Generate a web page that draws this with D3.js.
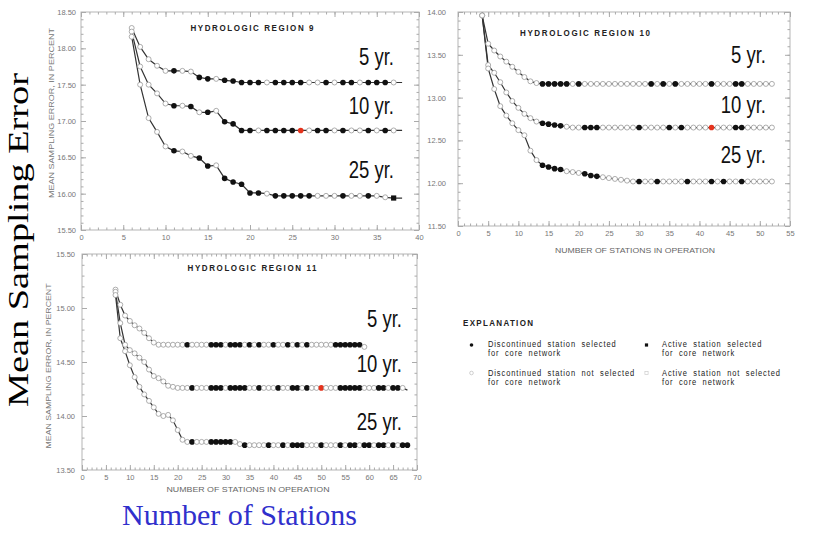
<!DOCTYPE html>
<html>
<head>
<meta charset="utf-8">
<script src="https://cdn.jsdelivr.net/npm/d3@7"></script>
<style>
  body { margin: 0; background: #fff; }
  svg { display: block; font-family: "Liberation Sans", Arial, sans-serif; }
</style>
</head>
<body>
<svg width="819" height="535"></svg>
<script>
// marker codes: o = not selected, f = discontinued selected, s = active selected,
// r = red (chosen network size), - = no marker

// Hydrologic region 9, stations 6..38
const r9Start = 6;
const r9Five = [18.28, 18.02, 17.85, 17.76, 17.69, 17.69, 17.69, 17.68, 17.60, 17.58, 17.58, 17.56, 17.55,
  17.53, 17.53, 17.53, 17.53, 17.53, 17.53, 17.53, 17.53, 17.53, 17.53,
  17.53, 17.53, 17.53, 17.53, 17.53, 17.53, 17.53, 17.53, 17.53, 17.53];
const r9FiveMarks = 'ooooofooffofffffoffffoofoffofffo-';
const r9Ten = [18.23, 17.75, 17.50, 17.38, 17.24, 17.21, 17.21, 17.20, 17.12, 17.12, 17.14, 16.99, 16.96,
  16.87, 16.87, 16.87, 16.87, 16.87, 16.87, 16.87, 16.87, 16.87, 16.87,
  16.87, 16.87, 16.87, 16.87, 16.87, 16.87, 16.87, 16.87, 16.87, 16.87];
const r9TenMarks = 'ooooofofofoffffoffffroffofoofofo-';
const r9TwentyFive = [18.16, 17.50, 17.04, 16.85, 16.65, 16.59, 16.58, 16.52, 16.49, 16.38, 16.39, 16.21,
  16.16, 16.13, 16.01, 16.01, 16.00, 15.97, 15.97, 15.97, 15.97, 15.97, 15.97, 15.97, 15.97,
  15.97, 15.97, 15.97, 15.97, 15.97, 15.95, 15.94, 15.94];
const r9TwentyFiveMarks = 'ooooofooffofffffofffffooofoofoos-';

// Hydrologic region 10, stations 4..52
const r10Start = 4;
const r10Five = [13.96, 13.63, 13.55, 13.48, 13.42, 13.36, 13.30, 13.24, 13.19, 13.17,
  13.16, 13.16, 13.16, 13.16, 13.16, 13.16, 13.16, 13.16, 13.16, 13.16,
  13.16, 13.16, 13.16, 13.16, 13.16, 13.16, 13.16, 13.16, 13.16, 13.16,
  13.16, 13.16, 13.16, 13.16, 13.16, 13.16, 13.16, 13.16, 13.16, 13.16,
  13.16, 13.16, 13.16, 13.16, 13.16, 13.16, 13.16, 13.16, 13.16];
const r10FiveMarks = 'oooooooooofffffofooooooooooofofofooooofoooffooooo';
const r10Ten = [13.96, 13.38, 13.29, 13.18, 13.06, 12.96, 12.88, 12.81, 12.76, 12.72,
  12.70, 12.69, 12.68, 12.67, 12.66, 12.65, 12.65, 12.65, 12.65, 12.65,
  12.65, 12.65, 12.65, 12.65, 12.65, 12.65, 12.65, 12.65, 12.65, 12.65,
  12.65, 12.65, 12.65, 12.65, 12.65, 12.65, 12.65, 12.65, 12.65, 12.65,
  12.65, 12.65, 12.65, 12.65, 12.65, 12.65, 12.65, 12.65, 12.65];
const r10TenMarks = 'ooooooooooffffooofffoooooofoooofofooooroooffooooo';
const r10TwentyFive = [13.96, 13.34, 13.10, 12.90, 12.79, 12.70, 12.62, 12.56, 12.38, 12.27,
  12.21, 12.19, 12.17, 12.16, 12.14, 12.13, 12.12, 12.11, 12.09, 12.08,
  12.07, 12.06, 12.05, 12.04, 12.03, 12.02, 12.02, 12.02, 12.02, 12.02,
  12.02, 12.02, 12.02, 12.02, 12.02, 12.02, 12.02, 12.02, 12.02, 12.02,
  12.02, 12.02, 12.02, 12.02, 12.02, 12.02, 12.02, 12.02, 12.02];
const r10TwentyFiveMarks = 'oooooooooo' + 'ffff' + 'ooo' + 'fff' + 'oooooo' + 'f' + 'oo' + 'f' + 'oooo' +
  'f' + 'ooo' + 'f' + 'o' + 'f' + 'oo' + 'f' + 'ooooo';

// Hydrologic region 11, stations 7..68
const r11Start = 7;
const r11Five = [15.17, 15.03, 14.93, 14.88, 14.84, 14.81, 14.77, 14.72, 14.68,
  14.66, 14.66, 14.66, 14.66, 14.66, 14.66, 14.66, 14.66, 14.66, 14.66,
  14.66, 14.66, 14.66, 14.66, 14.66, 14.66, 14.66, 14.66, 14.66, 14.66,
  14.66, 14.66, 14.66, 14.66, 14.66, 14.66, 14.66, 14.66, 14.66, 14.66,
  14.66, 14.66, 14.66, 14.66, 14.66, 14.66, 14.66, 14.66, 14.66, 14.66,
  14.66, 14.66, 14.66, 14.64];
const r11FiveMarks = 'ooooooooooooooo' + 'f' + 'oooo' + 'fff' + 'o' + 'fff' + 'o' + 'f' + 'o' + 'f' + 'oo' + 'f' +
  'oo' + 'f' + 'o' + 'f' + 'o' + 'f' + 'ooooo' + 'ffffff' + 'ooo' + 'ff' + 'o' + 'ff' + 'o' + '-';
const r11Ten = [15.15, 14.86, 14.66, 14.61, 14.58, 14.54, 14.50, 14.43, 14.37, 14.35, 14.32, 14.28, 14.27,
  14.26, 14.26, 14.26, 14.26, 14.26, 14.26, 14.26, 14.26, 14.26, 14.26,
  14.26, 14.26, 14.26, 14.26, 14.26, 14.26, 14.26, 14.26, 14.26, 14.26,
  14.26, 14.26, 14.26, 14.26, 14.26, 14.26, 14.26, 14.26, 14.26, 14.26,
  14.26, 14.26, 14.26, 14.26, 14.26, 14.26, 14.26, 14.26, 14.26, 14.26,
  14.26, 14.26, 14.26, 14.26, 14.26, 14.26, 14.26, 14.26, 14.24];
const r11TenMarks = 'oooooooooooooooo' + 'f' + 'ooo' + 'fff' + 'o' + 'ffff' + 'oo' + 'f' + 'ooo' + 'f' + 'oo' + 'ff' +
  'o' + 'f' + 'oo' + 'r' + 'ooo' + 'fffff' + 'ooo' + 'ff' + 'o' + 'ff' + 'o' + '-';
const r11TwentyFive = [15.12, 14.72, 14.60, 14.47, 14.36, 14.27, 14.20, 14.14, 14.08, 14.02, 14.00, 14.01,
  13.96, 13.87, 13.78,
  13.76, 13.76, 13.76, 13.76, 13.76, 13.76, 13.76, 13.76, 13.76, 13.76, 13.76,
  13.74,
  13.73, 13.73, 13.73, 13.73, 13.73, 13.73, 13.73, 13.73, 13.73, 13.73,
  13.73, 13.73, 13.73, 13.73, 13.73, 13.73, 13.73, 13.73, 13.73, 13.73,
  13.73, 13.73, 13.73, 13.73, 13.73, 13.73, 13.73, 13.73, 13.73, 13.73,
  13.73, 13.73, 13.73, 13.73, 13.73];
const r11TwentyFiveMarks = 'oooooooooooooooo' + 'f' + 'ooo' + 'fffff' + 'oo' + 'f' + 'oooo' + 'f' + 'oo' + 'f' + 'o' +
  'fff' + 'ooo' + 'f' + 'ooo' + 'f' + 'o' + 'ff' + 'o' + 'ff' + 'o' + 'ff' + 'o' + 'f' + 'o' + 'ff';

const seriesLabels = ['5 yr.', '10 yr.', '25 yr.'];
const panelTitles = ['HYDROLOGIC  REGION  9', 'HYDROLOGIC  REGION  10', 'HYDROLOGIC  REGION  11'];
const legendItems = [
  ['f', 'Discontinued station selected', 'for core network'],
  ['s', 'Active station selected', 'for core network'],
  ['o', 'Discontinued station not selected', 'for core network'],
  ['q', 'Active station not selected', 'for core network']
];

const $svg = d3.select('svg');

function toPoints(start, values, marks) {
  return values.map((v, i) => ({ n: start + i, v: v, m: marks[i] || 'o' }));
}

function stretched(parent, x, y, str, sy) {
  return parent.append('text')
    .attr('transform', `translate(${x},${y}) scale(1,${sy})`)
    .text(str);
}

function drawMarker(g, x, y, m) {
  if (m === '-') return;
  if (m === 's') {
    g.append('rect').attr('x', x - 2.6).attr('y', y - 2.6).attr('width', 5.2).attr('height', 5.2).attr('fill', '#111');
  } else if (m === 'f') {
    g.append('circle').attr('cx', x).attr('cy', y).attr('r', 2.8).attr('fill', '#111');
  } else if (m === 'r') {
    g.append('circle').attr('cx', x).attr('cy', y).attr('r', 2.8).attr('fill', '#e5321c');
  } else {
    g.append('circle').attr('cx', x).attr('cy', y).attr('r', 2.5)
      .attr('fill', '#fff').attr('stroke', '#999').attr('stroke-width', 0.8);
  }
}

function drawPanel(p) {
  const x = d3.scaleLinear().domain(p.xDomain).range(p.xRange),
        y = d3.scaleLinear().domain(p.yDomain).range(p.yRange),
        g = $svg.append('g'),
        x0 = p.xRange[0], x1 = p.xRange[1],
        yb = p.yRange[0], yt = p.yRange[1];

  g.append('rect')
    .attr('x', x0).attr('y', yt)
    .attr('width', x1 - x0).attr('height', yb - yt)
    .attr('fill', 'none').attr('stroke', '#b5b5b5').attr('stroke-width', 1);

  const xMinor = d3.range(p.xDomain[0], p.xDomain[1] + 0.001, 1),
        xMajor = d3.range(p.xDomain[0], p.xDomain[1] + 0.001, 5),
        yMinor = d3.range(p.yDomain[0], p.yDomain[1] + 0.001, 0.1),
        yMajor = d3.range(p.yDomain[0], p.yDomain[1] + 0.001, 0.5);

  const clean = (a) => {
    a.select('.domain').remove();
    a.selectAll('line').attr('stroke', '#aaa');
    a.selectAll('text').attr('fill', '#777').attr('font-size', 7.5);
  };

  g.append('g').attr('transform', `translate(0,${yb})`)
    .call(d3.axisBottom(x).tickValues(xMinor).tickSize(-2.5).tickFormat('')).call(clean);
  g.append('g').attr('transform', `translate(0,${yb})`)
    .call(d3.axisBottom(x).tickValues(xMajor).tickSize(-5).tickPadding(5).tickFormat(d3.format('d'))).call(clean);
  g.append('g').attr('transform', `translate(0,${yt})`)
    .call(d3.axisTop(x).tickValues(xMinor).tickSize(-2.5).tickFormat('')).call(clean);
  g.append('g').attr('transform', `translate(0,${yt})`)
    .call(d3.axisTop(x).tickValues(xMajor).tickSize(-5).tickFormat('')).call(clean);
  g.append('g').attr('transform', `translate(${x0},0)`)
    .call(d3.axisLeft(y).tickValues(yMinor).tickSize(-2.5).tickFormat('')).call(clean);
  g.append('g').attr('transform', `translate(${x0},0)`)
    .call(d3.axisLeft(y).tickValues(yMajor).tickSize(-5).tickPadding(p.yPad).tickFormat(d3.format('.2f'))).call(clean);
  g.append('g').attr('transform', `translate(${x1},0)`)
    .call(d3.axisRight(y).tickValues(yMinor).tickSize(-2.5).tickFormat('')).call(clean);
  g.append('g').attr('transform', `translate(${x1},0)`)
    .call(d3.axisRight(y).tickValues(yMajor).tickSize(-5).tickFormat('')).call(clean);

  const line = d3.line().x((d) => x(d.n)).y((d) => y(d.v));

  p.series.forEach((s) => {
    g.append('path')
      .datum(s)
      .attr('d', line)
      .attr('fill', 'none')
      .attr('stroke', '#333')
      .attr('stroke-width', 1.2);
  });

  p.series.forEach((s) => {
    s.forEach((d) => drawMarker(g, x(d.n), y(d.v), d.m));
  });

  stretched(g, p.title[0], p.title[1], p.name, 1.2)
    .attr('text-anchor', 'middle')
    .attr('font-weight', 'bold')
    .attr('font-size', 8)
    .attr('fill', '#222')
    .attr('textLength', p.title[2])
    .attr('lengthAdjust', 'spacing');

  p.labels.forEach((l, i) => {
    stretched(g, l[0], l[1], seriesLabels[i], 1.27)
      .attr('text-anchor', 'end')
      .attr('font-size', 18.5)
      .attr('fill', '#111');
  });

  if (p.xTitle) {
    g.append('text')
      .attr('x', p.xTitle[0]).attr('y', p.xTitle[1])
      .attr('text-anchor', 'middle')
      .attr('font-size', 7.5)
      .attr('fill', '#666')
      .attr('textLength', p.xTitle[2])
      .attr('lengthAdjust', 'spacingAndGlyphs')
      .text('NUMBER OF STATIONS IN OPERATION');
  }

  if (p.yTitle) {
    g.append('text')
      .attr('transform', `translate(${p.yTitle[0]},${p.yTitle[1]}) rotate(-90)`)
      .attr('text-anchor', 'middle')
      .attr('font-size', 6.5)
      .attr('fill', '#777')
      .attr('textLength', p.yTitle[2])
      .attr('lengthAdjust', 'spacingAndGlyphs')
      .text('MEAN SAMPLING ERROR, IN PERCENT');
  }
}

drawPanel({
  name: panelTitles[0],
  xDomain: [0, 40], xRange: [81, 419],
  yDomain: [15.5, 18.5], yRange: [230, 12],
  yPad: 5,
  series: [
    toPoints(r9Start, r9Five, r9FiveMarks),
    toPoints(r9Start, r9Ten, r9TenMarks),
    toPoints(r9Start, r9TwentyFive, r9TwentyFiveMarks)
  ],
  title: [252, 31, 123],
  labels: [[394, 65], [394, 114], [394, 178]],
  yTitle: [54, 113, 170]
});

drawPanel({
  name: panelTitles[1],
  xDomain: [0, 55], xRange: [458, 790],
  yDomain: [11.5, 14], yRange: [226, 12],
  yPad: 12,
  series: [
    toPoints(r10Start, r10Five, r10FiveMarks),
    toPoints(r10Start, r10Ten, r10TenMarks),
    toPoints(r10Start, r10TwentyFive, r10TwentyFiveMarks)
  ],
  title: [585, 36, 130],
  labels: [[766, 63], [766, 113], [766, 163]],
  xTitle: [635, 253, 160]
});

drawPanel({
  name: panelTitles[2],
  xDomain: [0, 70], xRange: [82, 417],
  yDomain: [13.5, 15.5], yRange: [470, 254],
  yPad: 7,
  series: [
    toPoints(r11Start, r11Five, r11FiveMarks),
    toPoints(r11Start, r11Ten, r11TenMarks),
    toPoints(r11Start, r11TwentyFive, r11TwentyFiveMarks)
  ],
  title: [252, 271, 129],
  labels: [[402, 327], [402, 372], [402, 430]],
  xTitle: [248, 492, 163],
  yTitle: [51, 366, 165]
});

// legend
const $legend = $svg.append('g');

stretched($legend, 463, 326, 'EXPLANATION', 1.2)
  .attr('font-weight', 'bold')
  .attr('font-size', 8)
  .attr('fill', '#222')
  .attr('textLength', 70)
  .attr('lengthAdjust', 'spacing');

legendItems.forEach((item, i) => {
  const col = i % 2,
        row = Math.floor(i / 2),
        mx = col === 0 ? 471.5 : 646.5,
        my = row === 0 ? 345 : 373,
        tx = col === 0 ? 488 : 662,
        ty = row === 0 ? 347 : 376;

  if (item[0] === 'f') {
    $legend.append('circle').attr('cx', mx).attr('cy', my).attr('r', 1.8).attr('fill', '#111');
  } else if (item[0] === 's') {
    $legend.append('rect').attr('x', mx - 1.6).attr('y', my - 1.6).attr('width', 3.2).attr('height', 3.2).attr('fill', '#111');
  } else if (item[0] === 'o') {
    $legend.append('circle').attr('cx', mx).attr('cy', my).attr('r', 1.8)
      .attr('fill', '#fff').attr('stroke', '#bbb').attr('stroke-width', 0.7);
  } else {
    $legend.append('rect').attr('x', mx - 1.6).attr('y', my - 1.6).attr('width', 3.2).attr('height', 3.2)
      .attr('fill', '#fff').attr('stroke', '#ccc').attr('stroke-width', 0.7);
  }

  [item[1], item[2]].forEach((str, k) => {
    stretched($legend, tx, ty + k * 9, str, 1.1)
      .attr('font-size', 7.5)
      .attr('fill', '#222')
      .attr('letter-spacing', 0.9)
      .attr('word-spacing', 2.5);
  });
});

// big slide titles
$svg.append('text')
  .attr('transform', 'translate(28,240) rotate(-90)')
  .attr('text-anchor', 'middle')
  .attr('font-family', '"Liberation Serif", "Times New Roman", serif')
  .attr('font-size', 30)
  .attr('fill', '#000')
  .attr('textLength', 334)
  .attr('lengthAdjust', 'spacingAndGlyphs')
  .text('Mean Sampling Error');

$svg.append('text')
  .attr('x', 122)
  .attr('y', 525)
  .attr('font-family', '"Liberation Serif", "Times New Roman", serif')
  .attr('font-size', 30)
  .attr('fill', '#3030cc')
  .text('Number of Stations');
</script>
</body>
</html>
